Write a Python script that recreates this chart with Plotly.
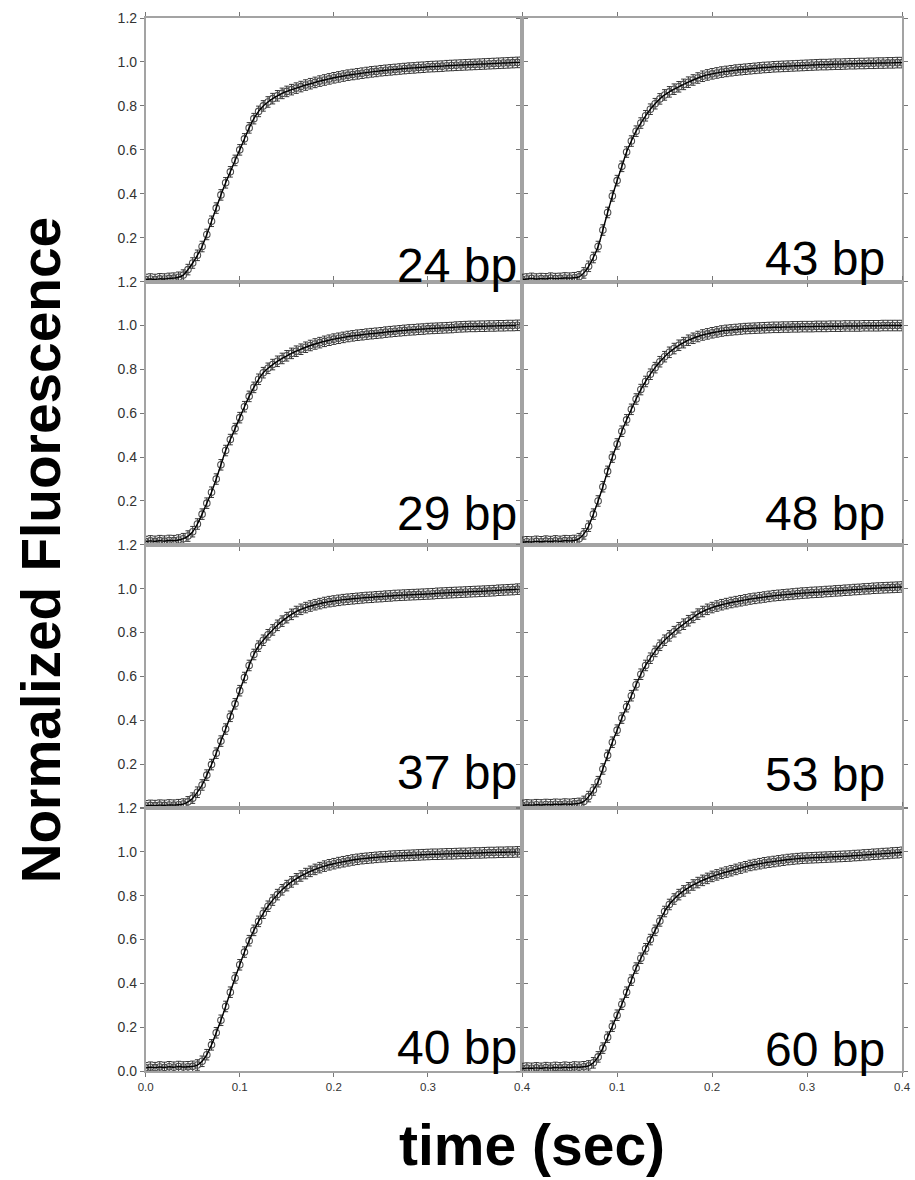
import plotly.graph_objects as go

# ---------------- data ----------------
TIME = [0.000, 0.005, 0.010, 0.015, 0.020, 0.025, 0.030, 0.035, 0.040, 0.045,
        0.050, 0.055, 0.060, 0.065, 0.070, 0.075, 0.080, 0.085, 0.090, 0.095,
        0.100, 0.105, 0.110, 0.115, 0.120, 0.125, 0.130, 0.135, 0.140, 0.145,
        0.150, 0.155, 0.160, 0.165, 0.170, 0.175, 0.180, 0.185, 0.190, 0.195,
        0.200, 0.205, 0.210, 0.215, 0.220, 0.225, 0.230, 0.235, 0.240, 0.245,
        0.250, 0.255, 0.260, 0.265, 0.270, 0.275, 0.280, 0.285, 0.290, 0.295,
        0.300, 0.305, 0.310, 0.315, 0.320, 0.325, 0.330, 0.335, 0.340, 0.345,
        0.350, 0.355, 0.360, 0.365, 0.370, 0.375, 0.380, 0.385, 0.390, 0.395,
        0.400]

F24 = [0.010, 0.012, 0.010, 0.013, 0.012, 0.015, 0.016, 0.020, 0.030, 0.055,
       0.085, 0.120, 0.160, 0.215, 0.275, 0.335, 0.395, 0.450, 0.500, 0.552,
       0.600, 0.650, 0.700, 0.742, 0.775, 0.800, 0.818, 0.833, 0.846, 0.857,
       0.866, 0.874, 0.881, 0.888, 0.895, 0.901, 0.907, 0.913, 0.918, 0.923,
       0.928, 0.932, 0.936, 0.940, 0.943, 0.946, 0.949, 0.952, 0.955, 0.957,
       0.960, 0.962, 0.964, 0.966, 0.968, 0.970, 0.972, 0.973, 0.975, 0.976,
       0.978, 0.979, 0.980, 0.981, 0.983, 0.984, 0.985, 0.986, 0.987, 0.988,
       0.989, 0.990, 0.991, 0.992, 0.993, 0.994, 0.995, 0.996, 0.997, 0.998,
       0.999]

F43 = [0.010, 0.012, 0.015, 0.012, 0.014, 0.013, 0.016, 0.014, 0.015, 0.017,
       0.016, 0.018, 0.022, 0.040, 0.070, 0.110, 0.160, 0.235, 0.315, 0.390,
       0.460, 0.525, 0.590, 0.640, 0.685, 0.722, 0.755, 0.785, 0.810, 0.832,
       0.850, 0.864, 0.876, 0.887, 0.898, 0.908, 0.918, 0.927, 0.935, 0.941,
       0.946, 0.950, 0.954, 0.957, 0.960, 0.963, 0.965, 0.967, 0.969, 0.971,
       0.973, 0.975, 0.976, 0.978, 0.979, 0.980, 0.981, 0.982, 0.983, 0.984,
       0.985, 0.986, 0.987, 0.988, 0.988, 0.989, 0.990, 0.990, 0.991, 0.992,
       0.992, 0.993, 0.993, 0.994, 0.994, 0.995, 0.995, 0.996, 0.996, 0.997,
       0.997]

F29 = [0.015, 0.018, 0.016, 0.019, 0.017, 0.020, 0.019, 0.022, 0.028, 0.040,
       0.060, 0.095, 0.140, 0.190, 0.240, 0.300, 0.365, 0.430, 0.480, 0.530,
       0.580, 0.630, 0.677, 0.718, 0.755, 0.785, 0.805, 0.822, 0.837, 0.850,
       0.862, 0.873, 0.883, 0.892, 0.901, 0.909, 0.916, 0.922, 0.928, 0.933,
       0.938, 0.942, 0.946, 0.950, 0.953, 0.956, 0.958, 0.961, 0.963, 0.965,
       0.967, 0.970, 0.972, 0.974, 0.976, 0.978, 0.980, 0.981, 0.983, 0.984,
       0.986, 0.987, 0.988, 0.989, 0.990, 0.991, 0.993, 0.994, 0.995, 0.996,
       0.996, 0.997, 0.997, 0.998, 0.998, 0.999, 0.999, 1.000, 1.000, 1.001,
       1.001]

F48 = [0.012, 0.014, 0.013, 0.016, 0.014, 0.017, 0.015, 0.018, 0.016, 0.019,
       0.018, 0.020, 0.028, 0.050, 0.085, 0.140, 0.200, 0.265, 0.335, 0.400,
       0.460, 0.518, 0.570, 0.618, 0.665, 0.708, 0.745, 0.778, 0.808, 0.835,
       0.858, 0.878, 0.895, 0.910, 0.922, 0.933, 0.942, 0.950, 0.957, 0.962,
       0.967, 0.971, 0.975, 0.978, 0.980, 0.982, 0.984, 0.986, 0.987, 0.988,
       0.989, 0.990, 0.991, 0.992, 0.992, 0.993, 0.993, 0.994, 0.994, 0.995,
       0.995, 0.995, 0.996, 0.996, 0.996, 0.997, 0.997, 0.997, 0.998, 0.998,
       0.998, 0.998, 0.999, 0.999, 0.999, 0.999, 1.000, 1.000, 1.000, 1.000,
       1.000]

F37 = [0.010, 0.012, 0.011, 0.013, 0.012, 0.014, 0.013, 0.015, 0.018, 0.028,
       0.045, 0.072, 0.105, 0.150, 0.198, 0.250, 0.305, 0.360, 0.418, 0.475,
       0.535, 0.595, 0.650, 0.700, 0.738, 0.765, 0.790, 0.812, 0.833, 0.852,
       0.868, 0.883, 0.896, 0.906, 0.914, 0.921, 0.927, 0.932, 0.937, 0.941,
       0.944, 0.947, 0.950, 0.952, 0.954, 0.956, 0.958, 0.960, 0.961, 0.963,
       0.964, 0.966, 0.967, 0.969, 0.970, 0.971, 0.972, 0.973, 0.974, 0.975,
       0.976, 0.977, 0.979, 0.980, 0.981, 0.982, 0.983, 0.984, 0.985, 0.986,
       0.987, 0.988, 0.989, 0.990, 0.991, 0.993, 0.994, 0.995, 0.996, 0.998,
       0.999]

F53 = [0.012, 0.014, 0.013, 0.015, 0.014, 0.016, 0.015, 0.017, 0.016, 0.018,
       0.017, 0.019, 0.021, 0.030, 0.052, 0.082, 0.120, 0.178, 0.240, 0.300,
       0.355, 0.410, 0.462, 0.512, 0.562, 0.610, 0.650, 0.683, 0.714, 0.742,
       0.765, 0.785, 0.804, 0.822, 0.838, 0.854, 0.869, 0.884, 0.896, 0.906,
       0.914, 0.921, 0.927, 0.932, 0.937, 0.941, 0.945, 0.949, 0.953, 0.956,
       0.959, 0.962, 0.965, 0.968, 0.970, 0.972, 0.974, 0.976, 0.978, 0.980,
       0.981, 0.983, 0.984, 0.985, 0.987, 0.988, 0.990, 0.991, 0.993, 0.994,
       0.996, 0.997, 0.999, 1.000, 1.002, 1.003, 1.004, 1.005, 1.006, 1.007,
       1.008]

F40 = [0.015, 0.018, 0.016, 0.019, 0.017, 0.020, 0.018, 0.021, 0.019, 0.020,
       0.022, 0.028, 0.045, 0.075, 0.120, 0.175, 0.232, 0.295, 0.360, 0.425,
       0.485, 0.543, 0.595, 0.642, 0.683, 0.720, 0.752, 0.780, 0.805, 0.827,
       0.846, 0.863, 0.877, 0.890, 0.901, 0.911, 0.920, 0.928, 0.935, 0.941,
       0.946, 0.951, 0.955, 0.959, 0.963, 0.966, 0.969, 0.971, 0.973, 0.975,
       0.977, 0.978, 0.980, 0.981, 0.982, 0.983, 0.984, 0.985, 0.986, 0.987,
       0.988, 0.989, 0.989, 0.990, 0.991, 0.991, 0.992, 0.993, 0.993, 0.994,
       0.995, 0.995, 0.996, 0.997, 0.997, 0.998, 0.998, 0.999, 0.999, 1.000,
       1.000]

F60 = [0.012, 0.014, 0.013, 0.015, 0.013, 0.016, 0.014, 0.017, 0.015, 0.018,
       0.016, 0.019, 0.018, 0.020, 0.024, 0.038, 0.065, 0.105, 0.155, 0.205,
       0.255, 0.305, 0.360, 0.415, 0.470, 0.515, 0.558, 0.600, 0.642, 0.685,
       0.728, 0.760, 0.785, 0.805, 0.822, 0.836, 0.849, 0.860, 0.870, 0.879,
       0.888, 0.895, 0.902, 0.908, 0.914, 0.920, 0.926, 0.932, 0.938, 0.942,
       0.946, 0.950, 0.953, 0.956, 0.959, 0.962, 0.965, 0.967, 0.969, 0.971,
       0.972, 0.973, 0.974, 0.975, 0.976, 0.977, 0.978, 0.979, 0.980, 0.981,
       0.983, 0.984, 0.986, 0.987, 0.989, 0.990, 0.992, 0.993, 0.995, 0.996,
       0.998]

LABELS = ["24 bp", "43 bp", "29 bp", "48 bp", "37 bp", "53 bp", "40 bp", "60 bp"]
SERIES = [F24, F43, F29, F48, F37, F53, F40, F60]
ERR = 0.024

Y_TICKS = [0.0, 0.2, 0.4, 0.6, 0.8, 1.0, 1.2]
X_TICKS = [0.0, 0.1, 0.2, 0.3, 0.4]

# ---------------- layout geometry ----------------
# the photographed page shows the figure slightly reduced and offset
# (body margin); map target pixel positions back to figure pixels.
SCALE, SHIFT = 0.984, 6.5


def fp(px):
    return (px - SHIFT) / SCALE


W, H = 912, 1182
x_px = [(fp(144.5), fp(522)), (fp(522), fp(903))]
y_px = [(fp(16.5), fp(279.5)), (fp(279.5), fp(542)), (fp(542), fp(804.5)), (fp(804.5), fp(1067))]
LAB_POS = [(0.397, 0.075), (0.384, 0.105), (0.397, 0.143), (0.384, 0.141),
           (0.397, 0.160), (0.384, 0.155), (0.397, 0.107), (0.384, 0.100)]

fig = go.Figure()
FONT = "Liberation Sans, Arial, sans-serif"
axis_common = dict(showline=True, linecolor="#a3a3a3", linewidth=1.5, mirror="allticks",
                   ticks="outside", ticklen=4, tickwidth=1, tickcolor="#777777",
                   showgrid=False, zeroline=False)

annotations = []
for k in range(8):
    r, c = divmod(k, 2)
    n = k + 1
    xa = "x" if n == 1 else f"x{n}"
    ya = "y" if n == 1 else f"y{n}"
    fig.add_trace(go.Scatter(
        x=TIME, y=SERIES[k], mode="markers", xaxis=xa, yaxis=ya,
        marker=dict(symbol="circle-open", size=6.5, color="#4d4d4d", line=dict(width=1.1)),
        error_y=dict(type="constant", value=ERR, color="#222222", thickness=0.9, width=2.5),
        showlegend=False, hoverinfo="skip"))
    fig.add_trace(go.Scatter(
        x=TIME, y=SERIES[k], mode="lines", xaxis=xa, yaxis=ya,
        line=dict(color="#000000", width=1.4, shape="spline", smoothing=0.8),
        showlegend=False, hoverinfo="skip"))

    x0, x1 = x_px[c]
    y0, y1 = y_px[r]
    xdom = [x0 / W, x1 / W]
    ydom = [1 - y1 / H, 1 - y0 / H]

    if r == 3:
        xtext = [f"{v:.1f}" for v in X_TICKS] if c == 0 else [""] + [f"{v:.1f}" for v in X_TICKS[1:]]
        xshow = True
    else:
        xtext = [""] * len(X_TICKS)
        xshow = False
    xaxis = dict(axis_common, domain=xdom, range=[0, 0.4], anchor=ya,
                 tickvals=X_TICKS, ticktext=xtext, showticklabels=xshow,
                 tickfont=dict(family=FONT, color="#333333", size=11.5))

    if c == 0:
        ytext = [f"{v:.1f}" for v in Y_TICKS] if r == 3 else [""] + [f"{v:.1f}" for v in Y_TICKS[1:]]
        yshow = True
    else:
        ytext = [""] * len(Y_TICKS)
        yshow = False
    yaxis = dict(axis_common, domain=ydom, range=[0, 1.2], anchor=xa,
                 tickvals=Y_TICKS, ticktext=ytext, showticklabels=yshow,
                 tickfont=dict(family=FONT, color="#333333", size=14))

    key_x = "xaxis" if n == 1 else f"xaxis{n}"
    key_y = "yaxis" if n == 1 else f"yaxis{n}"
    fig.update_layout({key_x: xaxis, key_y: yaxis})

    lx, ly = LAB_POS[k]
    annotations.append(dict(text=LABELS[k], x=lx, y=ly, xref=xa, yref=ya,
                            xanchor="right", yanchor="middle", showarrow=False,
                            font=dict(family=FONT, size=48, color="#000000")))

annotations.append(dict(text="Normalized Fluorescence", x=fp(39) / W, y=1 - fp(547) / H,
                        xref="paper", yref="paper", xanchor="center", yanchor="middle",
                        textangle=-90, showarrow=False,
                        font=dict(family=FONT, size=55, color="#000000", weight="bold")))
annotations.append(dict(text="time (sec)", x=fp(532) / W, y=1 - fp(1141) / H,
                        xref="paper", yref="paper", xanchor="center", yanchor="middle",
                        showarrow=False,
                        font=dict(family=FONT, size=57, color="#000000", weight="bold")))

fig.update_layout(width=W, height=H, margin=dict(l=0, r=0, t=0, b=0),
                  paper_bgcolor="white", plot_bgcolor="white",
                  annotations=annotations)

fig.write_html("out.html")
